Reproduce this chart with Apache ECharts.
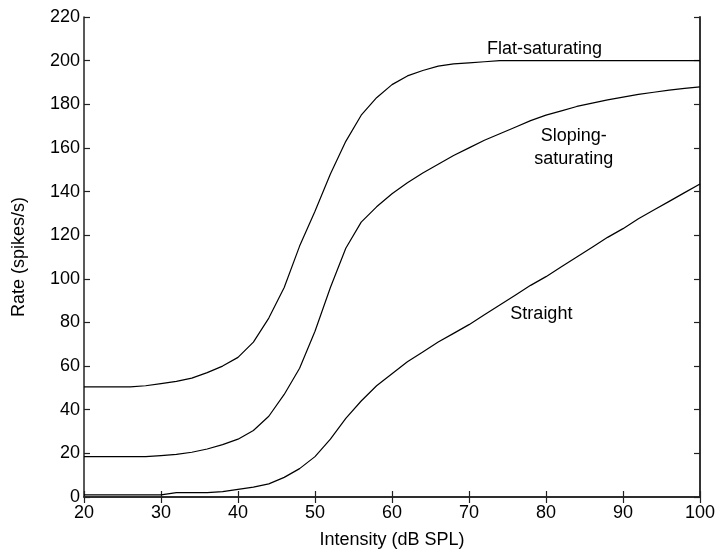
<!DOCTYPE html>
<html>
<head>
<meta charset="utf-8">
<script src="https://cdn.jsdelivr.net/npm/echarts@6/dist/echarts.min.js"></script>
<style>html,body{margin:0;padding:0;background:#fff}#c{width:720px;height:554px}</style>
</head>
<body>
<div id="c"></div>
<script>
const intensity = [20,22,24,26,28,30,32,34,36,38,40,42,44,46,48,50,52,54,56,58,60,62,64,66,68,70,72,74,76,78,80,82,84,86,88,90,92,94,96,98,100];
const flatSaturating = [50.5,50.5,50.5,50.5,51,52,53,54.5,57,60,64,71,82,96,115,131,148,163,175,183,189,193,195.5,197.5,198.5,199,199.5,200,200,200,200,200,200,200,200,200,200,200,200,200,200];
const slopingSaturating = [18.5,18.5,18.5,18.5,18.5,19,19.5,20.5,22,24,26.5,30.5,37,47,59,76,96,114,126,133,139,144,148.5,152.5,156.5,160,163.5,166.5,169.5,172.5,175,177,179,180.5,182,183.3,184.5,185.5,186.5,187.3,188];
const straight = [1,1,1,1,1,1,2,2,2,2.5,3.5,4.5,6,9,13,18.5,26.5,36,44,51,56.5,62,66.5,71,75,79,83.5,88,92.5,97,101,105.5,110,114.5,119,123,127.5,131.5,135.5,139.5,143.5];
const xTicks = [20,30,40,50,60,70,80,90,100];
const yTicks = [0,20,40,60,80,100,120,140,160,180,200,220];

const pairs = ys => intensity.map((x,i)=>[x, ys[i]]);
const font = 'Liberation Sans, Arial, sans-serif';
const axisLine = {show:true, lineStyle:{color:'#222', width:1.5}};
const chart = echarts.init(document.getElementById('c'), null, {renderer:'canvas'});
const lineSeries = (name, ys) => ({
  name, type:'line', data: pairs(ys), xAxisIndex:0, yAxisIndex:0,
  showSymbol:false, smooth:false, lineStyle:{color:'#000', width:1.2}, silent:true
});
chart.setOption({
  animation:false,
  grid:{left:84, right:20, top:17, bottom:54, containLabel:false},
  xAxis:[{
    type:'value', min:20, max:100, interval:10,
    name:'Intensity (dB SPL)', nameLocation:'middle', nameGap:34,
    nameTextStyle:{fontFamily:font, fontSize:18, color:'#000'},
    axisLine, axisTick:{show:true, inside:true, length:6, lineStyle:{color:'#222', width:1.2}},
    axisLabel:{fontFamily:font, fontSize:18, color:'#000', margin:7, formatter:v=>xTicks.includes(v)?String(v):''},
    splitLine:{show:false}
  },{
    type:'value', min:20, max:100, interval:10, position:'top',
    axisLine, axisTick:{show:true, inside:true, length:6, lineStyle:{color:'#222', width:1.2}},
    axisLabel:{show:false}, splitLine:{show:false}
  }],
  yAxis:[{
    type:'value', min:0, max:220, interval:20,
    name:'Rate (spikes/s)', nameLocation:'middle', nameGap:56,
    nameTextStyle:{fontFamily:font, fontSize:18, color:'#000'},
    axisLine, axisTick:{show:true, inside:true, length:6, lineStyle:{color:'#222', width:1.2}},
    axisLabel:{fontFamily:font, fontSize:18, color:'#000', margin:4, formatter:v=>yTicks.includes(v)?String(v):''},
    splitLine:{show:false}
  },{
    type:'value', min:0, max:220, interval:20, position:'right',
    axisLine:{show:true, lineStyle:{color:'#333', width:2}},
    axisTick:{show:true, inside:true, length:6, lineStyle:{color:'#222', width:1.2}},
    axisLabel:{show:false}, splitLine:{show:false}
  }],
  series:[
    lineSeries('Flat-saturating', flatSaturating),
    lineSeries('Sloping-saturating', slopingSaturating),
    lineSeries('Straight', straight)
  ]
});
const lbl = (text, xv, yv) => {
  const p = chart.convertToPixel({xAxisIndex:0, yAxisIndex:0}, [xv, yv]);
  return {type:'text', x:p[0], y:p[1], style:{text, fontFamily:font, fontSize:18, fill:'#000', align:'center', verticalAlign:'middle', lineHeight:23}};
};
chart.setOption({graphic:[
  lbl('Flat-saturating', 79.8, 205.5),
  lbl('Sloping-\nsaturating', 83.6, 160),
  lbl('Straight', 79.4, 84)
]});
</script>
</body>
</html>
